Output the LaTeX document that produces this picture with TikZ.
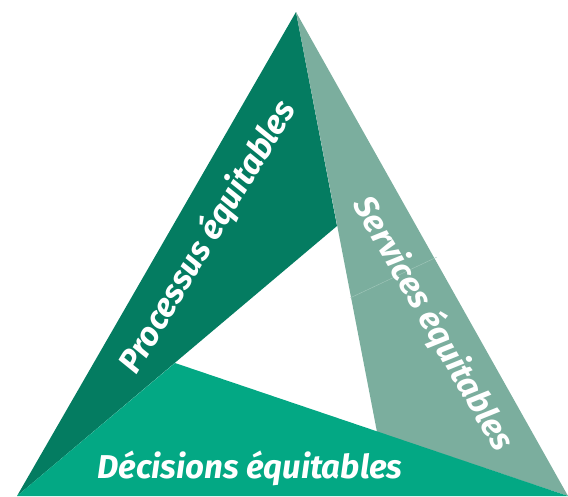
\documentclass[tikz,border=0pt]{standalone}
\usepackage{fontspec}
\setmainfont{Fira Sans}
\usepackage{xcolor}
\usepackage{tikz}

\definecolor{processus}{HTML}{047C61}
\definecolor{services}{HTML}{7BAE9E}
\definecolor{decisions}{HTML}{03A884}
\definecolor{seam}{HTML}{A3C8BC}

\begin{document}
\begin{tikzpicture}[x=1pt, y=-1pt,
    label text/.style={text=white, font=\bfseries\itshape\fontsize{33}{33}\selectfont, inner sep=0pt}]
    \useasboundingbox (0, 0) rectangle (568, 496);
    \coordinate (top) at (296, 12);
    \coordinate (left) at (17, 496);
    \coordinate (right) at (568, 496);
    \coordinate (inA) at (337, 226);
    \coordinate (inB) at (377, 432);
    \coordinate (inC) at (175, 363);

    \fill [processus] (top) -- (left) -- (inA) -- cycle;
    \fill [services] (top) -- (right) -- (inB) -- cycle;
    \fill [decisions] (left) -- (right) -- (inC) -- cycle;
    \draw [seam, line width=0.4pt] (350, 298) -- (437, 257);

    \node [label text, anchor=base] (dec) at (250, 478) {Décisions équitables};
    \node [label text, rotate=59] (proc) at (208, 237) {Processus équitables};
    \node [label text, rotate=-60] (serv) at (433, 324) {Services équitables};
\end{tikzpicture}
\end{document}
